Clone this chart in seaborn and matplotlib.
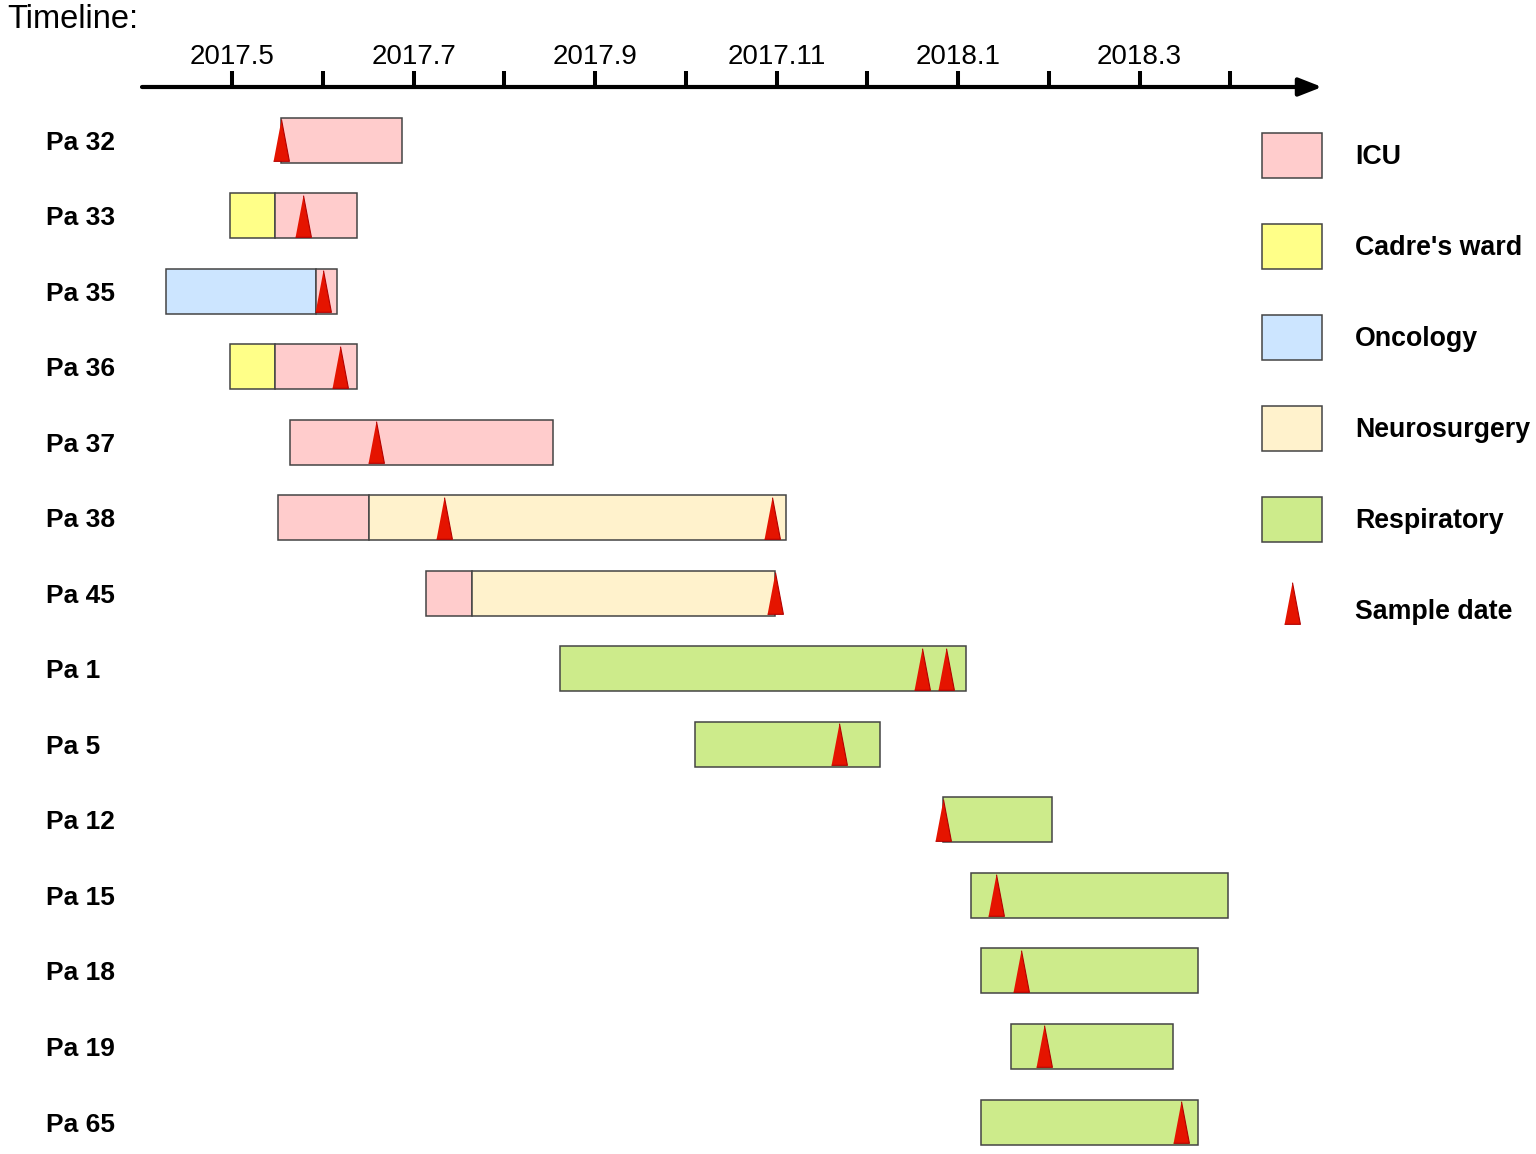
import numpy as np
import pandas as pd
import seaborn as sns
import matplotlib.pyplot as plt
from matplotlib.patches import Patch
from matplotlib.lines import Line2D

# patients, top to bottom
patients = ['Pa 32', 'Pa 33', 'Pa 35', 'Pa 36', 'Pa 37', 'Pa 38', 'Pa 45',
            'Pa 1', 'Pa 5', 'Pa 12', 'Pa 15', 'Pa 18', 'Pa 19', 'Pa 65']

# ward stays (x = month number, 2017.5 -> 5, 2018.1 -> 13)
seg_patient = ['Pa 32', 'Pa 33', 'Pa 33', 'Pa 35', 'Pa 35', 'Pa 36', 'Pa 36',
               'Pa 37', 'Pa 38', 'Pa 38', 'Pa 45', 'Pa 45', 'Pa 1', 'Pa 5',
               'Pa 12', 'Pa 15', 'Pa 18', 'Pa 19', 'Pa 65']
seg_ward = ['ICU', "Cadre's ward", 'ICU', 'Oncology', 'ICU', "Cadre's ward", 'ICU',
            'ICU', 'ICU', 'Neurosurgery', 'ICU', 'Neurosurgery', 'Respiratory', 'Respiratory',
            'Respiratory', 'Respiratory', 'Respiratory', 'Respiratory', 'Respiratory']
seg_start = [5.54, 4.98, 5.47, 4.27, 5.93, 4.98, 5.47,
             5.64, 5.51, 6.51, 7.14, 7.65, 8.61, 10.10,
             12.84, 13.14, 13.25, 13.58, 13.25]
seg_end = [6.87, 5.47, 6.38, 5.93, 6.16, 5.47, 6.38,
           8.54, 6.51, 11.11, 7.65, 10.98, 13.09, 12.14,
           14.04, 15.98, 15.64, 15.37, 15.64]

# sample dates
sample_patient = ['Pa 32', 'Pa 33', 'Pa 35', 'Pa 36', 'Pa 37', 'Pa 38', 'Pa 38', 'Pa 45',
                  'Pa 1', 'Pa 1', 'Pa 5', 'Pa 12', 'Pa 15', 'Pa 18', 'Pa 19', 'Pa 65']
sample_date = [5.54, 5.78, 6.00, 6.19, 6.59, 7.34, 10.95, 10.98,
               12.60, 12.87, 11.69, 12.84, 13.42, 13.69, 13.95, 15.46]

tick_months = [5, 7, 9, 11, 13, 15]
tick_labels = ['2017.5', '2017.7', '2017.9', '2017.11', '2018.1', '2018.3']
minor_months = [6, 8, 10, 12, 14, 16]

wards = ['ICU', "Cadre's ward", 'Oncology', 'Neurosurgery', 'Respiratory']
ward_colors = ['#FFCCCC', '#FFFF88', '#CCE5FF', '#FFF2CC', '#CDEB8B']
palette = dict(zip(wards, ward_colors))

segs = pd.DataFrame({'patient': seg_patient, 'ward': seg_ward,
                     'start': seg_start, 'end': seg_end})
segs['row'] = segs.patient.map({p: i for i, p in enumerate(patients)})
samples = pd.DataFrame({'patient': sample_patient, 'date': sample_date})
samples['row'] = samples.patient.map({p: i for i, p in enumerate(patients)})

sns.set_style("white")
plt.rcParams['font.family'] = ['Liberation Sans', 'DejaVu Sans']
plt.rcParams['text.color'] = 'black'
plt.rcParams['xtick.color'] = 'black'
plt.rcParams['ytick.color'] = 'black'

W, H = 1536, 1154
fig = plt.figure(figsize=(W / 100, H / 100), dpi=100)
# axes: left at x=142px, right at arrow tip 1322px, top at axis line 87px
ax = fig.add_axes([142 / W, 0, (1322 - 142) / W, (H - 87) / H])

px_per_month = 90.75
ax.set_xlim(5 - (232 - 142) / px_per_month, 5 + (1322 - 232) / px_per_month)
row_px = 75.54
ax.set_ylim((H - 140) / row_px, -(140 - 87) / row_px)

ax.barh(segs.row, segs.end - segs.start, left=segs.start, height=45 / row_px,
        color=segs.ward.map(palette), edgecolor='#444444', linewidth=1.1, zorder=2)

tri = [(-0.38, -1), (0.38, -1), (0, 1)]
sns.scatterplot(data=samples, x='date', y='row', ax=ax, marker=tri, s=30 ** 2,
                color='#E51400', edgecolor='#B20000', linewidth=0.8, zorder=3,
                legend=False)

# timeline on top
for s in ['left', 'right', 'bottom', 'top']:
    ax.spines[s].set_visible(False)
ax.annotate('', xy=(1, 1), xytext=(0, 1), xycoords='axes fraction',
            arrowprops=dict(arrowstyle='-|>,head_length=1.4,head_width=0.55',
                            color='black', lw=3.0, shrinkA=0, shrinkB=0),
            annotation_clip=False)
ax.xaxis.tick_top()
ax.set_xticks(tick_months)
ax.set_xticklabels(tick_labels)
ax.set_xticks(minor_months, minor=True)
ax.tick_params(axis='x', which='both', direction='out', length=11.5, width=2.9,
               color='black', pad=1, labelsize=20, top=True, bottom=False)
ax.set_xlabel('')
ax.set_ylabel('')

ax.set_yticks(range(len(patients)))
ax.set_yticklabels(patients, fontweight='bold', fontsize=19, ha='left')
ax.tick_params(axis='y', length=0, pad=(142 - 46) * 0.72)
ax.grid(False)

fig.text(7 / W, 1 - 4 / H, 'Timeline:', fontsize=23.5, va='top', ha='left')

handles = [Patch(facecolor=palette[w], edgecolor='#444444', linewidth=1.1) for w in wards]
handles.append(Line2D([], [], linestyle='none', marker=tri, markersize=30,
                      markerfacecolor='#E51400', markeredgecolor='#B20000',
                      markeredgewidth=0.8))
labels = wards + ['Sample date']
fs = 19.3 * 100 / 72
hh = (45 / fs - 0.245) / 0.65
fig.legend(handles, labels, loc='upper left', bbox_to_anchor=(1262 / W, 1 - 133 / H),
           frameon=False, borderpad=0, borderaxespad=0,
           prop={'weight': 'bold', 'size': 19.3},
           handlelength=60 / fs, handleheight=hh,
           labelspacing=46 / fs, handletextpad=33 / fs)

fig.savefig('out.png', dpi=100, facecolor='white')
